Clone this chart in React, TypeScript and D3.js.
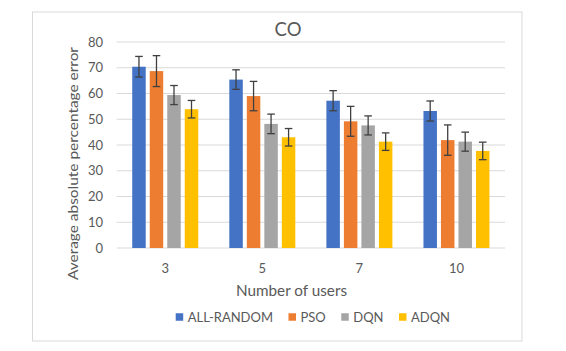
import React from "react";
import * as d3 from "d3";

const categories = ["3", "5", "7", "10"];
const seriesNames = ["ALL-RANDOM", "PSO", "DQN", "ADQN"];
const allRandom = [70.4, 65.4, 57.2, 53.2];
const pso = [68.7, 59.0, 49.2, 41.9];
const dqn = [59.4, 48.2, 47.6, 41.3];
const adqn = [53.9, 43.0, 41.3, 37.7];
const allRandomErr = [4.0, 3.8, 3.9, 3.9];
const psoErr = [6.0, 5.7, 5.8, 5.9];
const dqnErr = [3.7, 3.8, 3.7, 3.7];
const adqnErr = [3.4, 3.4, 3.4, 3.4];
const yTicks = [0, 10, 20, 30, 40, 50, 60, 70, 80];
const colors = ["#4472C4", "#ED7D31", "#A5A5A5", "#FFC000"];

const values = [allRandom, pso, dqn, adqn];
const errors = [allRandomErr, psoErr, dqnErr, adqnErr];

const W = 566;
const H = 351;
const FONT = "Lato, 'Liberation Sans', sans-serif";
const TXT = "#595959";

function measure(text: string, size: number) {
  const c = document.createElement("canvas").getContext("2d");
  if (!c) return text.length * size * 0.55;
  c.font = `${size}px Lato`;
  return c.measureText(text).width;
}

export default function App() {
  const plot = { left: 116.7, right: 505, top: 42, bottom: 248 };
  const y = d3.scaleLinear().domain([0, 80]).range([plot.bottom, plot.top]);
  const x0 = d3.scaleBand<string>().domain(categories).range([plot.left, plot.right]).padding(0);
  const bw = x0.bandwidth();
  const x1 = d3
    .scaleBand<string>()
    .domain(seriesNames)
    .range([bw * 0.16, bw * 0.84])
    .paddingInner(0.23);

  // legend layout
  const legSize = 13;
  const sq = 7.5;
  const gapSqText = 4.5;
  const gapItems = 15.5;
  const widths = seriesNames.map((s) => sq + gapSqText + measure(s, legSize));
  const total = d3.sum(widths) + gapItems * (seriesNames.length - 1);
  let lx = (plot.left + plot.right) / 2 - total / 2 + 2;
  const legendItems = seriesNames.map((s, i) => {
    const item = { name: s, x: lx, color: colors[i] };
    lx += widths[i] + gapItems;
    return item;
  });
  const legY = 317;

  return (
    <svg width={W} height={H} style={{ position: "absolute", left: 0, top: 0 }} fontFamily={FONT}>
      <rect x={0} y={0} width={W} height={H} fill="#fff" />
      <rect x={32.5} y={12} width={489.5} height={329} fill="#fff" stroke="#D9D9D9" strokeWidth={1} />
      <text x={288} y={36} textAnchor="middle" fontSize={18.5} fill={TXT}>
        CO
      </text>
      {yTicks.map((t) => (
        <g key={t}>
          <line x1={plot.left} x2={plot.right} y1={y(t)} y2={y(t)} stroke="#D9D9D9" strokeWidth={1} />
          <text x={103} y={y(t)} dy="0.35em" textAnchor="end" fontSize={13} fill={TXT}>
            {t}
          </text>
        </g>
      ))}
      {categories.map((c, ci) => (
        <g key={c} transform={`translate(${x0(c)},0)`}>
          {seriesNames.map((s, si) => {
            const v = values[si][ci];
            const e = errors[si][ci];
            const bx = x1(s)!;
            const cx = bx + x1.bandwidth() / 2;
            return (
              <g key={s}>
                <rect x={bx} y={y(v)} width={x1.bandwidth()} height={y(0) - y(v)} fill={colors[si]} />
                <line x1={cx} x2={cx} y1={y(v + e)} y2={y(v - e)} stroke="#404040" strokeWidth={1.3} />
                <line x1={cx - 3.8} x2={cx + 3.8} y1={y(v + e)} y2={y(v + e)} stroke="#404040" strokeWidth={1.3} />
                <line x1={cx - 3.8} x2={cx + 3.8} y1={y(v - e)} y2={y(v - e)} stroke="#404040" strokeWidth={1.3} />
              </g>
            );
          })}
          <text x={bw / 2} y={268} dy="0.35em" textAnchor="middle" fontSize={13} fill={TXT}>
            {c}
          </text>
        </g>
      ))}
      <text
        x={291.5}
        y={291}
        dy="0.35em"
        textAnchor="middle"
        fontSize={14.5}
        fill={TXT}
        textLength={111}
        lengthAdjust="spacingAndGlyphs"
      >
        Number of users
      </text>
      <text
        transform={`translate(73,163.5) rotate(-90)`}
        textAnchor="middle"
        dy="0.35em"
        fontSize={14.3}
        fill={TXT}
        textLength={233}
        lengthAdjust="spacingAndGlyphs"
      >
        Average absolute percentage error
      </text>
      {legendItems.map((it) => (
        <g key={it.name}>
          <rect x={it.x} y={legY - sq / 2} width={sq} height={sq} fill={it.color} />
          <text x={it.x + sq + gapSqText} y={legY} dy="0.35em" fontSize={legSize} fill={TXT}>
            {it.name}
          </text>
        </g>
      ))}
    </svg>
  );
}
